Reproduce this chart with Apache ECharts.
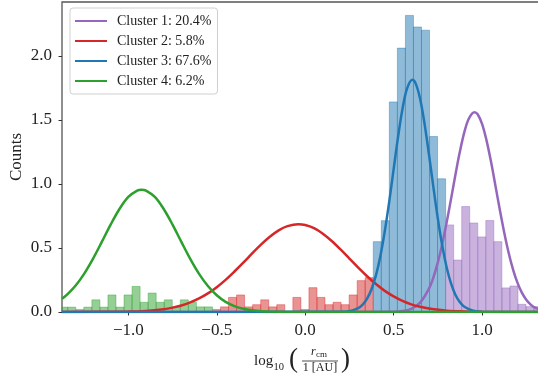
<!DOCTYPE html>
<html>
<head>
<meta charset="utf-8">
<script src="https://cdn.jsdelivr.net/npm/echarts@6/dist/echarts.min.js"></script>
<style>
  html, body { margin: 0; padding: 0; background: #fff; }
  #chart { width: 538px; height: 382px; }
</style>
</head>
<body>
<div id="chart"></div>
<script>
// legend labels, in the order the curves are drawn
const clusterNames = ["Cluster 1: 20.4%", "Cluster 2: 5.8%", "Cluster 3: 67.6%", "Cluster 4: 6.2%"];
const clusterColors = ["#9467bd", "#d62728", "#1f77b4", "#2ca02c"];

// histogram bins (common width), first edge of each cluster's run of bins
const binWidth = 0.04546;
const firstEdges = [0.794, -0.5243, 0.3849, -1.388];

const hist1 = [0.68, 0.406, 0.823, 0.695, 0.586, 0.714, 0.549, 0.188, 0.203, 0.06, 0.042, 0.042];
const hist2 = [0.019, 0.04, 0.114, 0.133, 0.04, 0.057, 0.095, 0.04, 0.057, 0, 0.114, 0.019,
  0.19, 0.114, 0.057, 0.076, 0.057, 0.133, 0.245, 0.268];
const hist3 = [0.549, 0.713, 1.64, 2.06, 2.315, 2.225, 2.2, 1.37, 1.04];
const hist4 = [0.038, 0.038, 0.019, 0.038, 0.095, 0.038, 0.133, 0.038, 0.133, 0.2, 0.076,
  0.148, 0.076, 0.095, 0.038, 0.095, 0.076, 0.04, 0.04];

// fitted curves as [x, y]
const curve1 = [[-1.375, 0], [0.5, 0.002], [0.55, 0.007], [0.6, 0.025], [0.65, 0.073], [0.7, 0.182],
  [0.725, 0.271], [0.75, 0.387], [0.775, 0.531], [0.8, 0.7], [0.825, 0.885], [0.85, 1.075],
  [0.875, 1.254], [0.9, 1.404], [0.925, 1.509], [0.957, 1.56], [0.975, 1.544], [1.0, 1.469],
  [1.025, 1.342], [1.05, 1.178], [1.075, 0.992], [1.1, 0.802], [1.125, 0.623], [1.15, 0.465],
  [1.175, 0.333], [1.2, 0.229], [1.225, 0.151], [1.25, 0.096], [1.275, 0.058], [1.3, 0.034],
  [1.339, 0.017]];
const curve2 = [[-1.375, 0], [-1.0, 0.003], [-0.9, 0.008], [-0.8, 0.022], [-0.75, 0.034],
  [-0.7, 0.051], [-0.65, 0.075], [-0.6, 0.106], [-0.55, 0.145], [-0.5, 0.194], [-0.45, 0.251],
  [-0.4, 0.316], [-0.35, 0.385], [-0.3, 0.457], [-0.25, 0.526], [-0.2, 0.587], [-0.15, 0.637],
  [-0.1, 0.67], [-0.039, 0.685], [0.0, 0.679], [0.05, 0.654], [0.1, 0.611], [0.15, 0.554],
  [0.2, 0.488], [0.25, 0.417], [0.3, 0.346], [0.35, 0.279], [0.4, 0.218], [0.45, 0.165],
  [0.5, 0.122], [0.55, 0.087], [0.6, 0.06], [0.65, 0.041], [0.7, 0.027], [0.8, 0.01],
  [0.9, 0.004], [1.0, 0.001], [1.339, 0]];
const curve3 = [[-1.375, 0], [0.2, 0.001], [0.25, 0.007], [0.3, 0.031], [0.325, 0.058],
  [0.35, 0.105], [0.375, 0.178], [0.4, 0.286], [0.425, 0.436], [0.45, 0.63], [0.475, 0.86],
  [0.5, 1.114], [0.525, 1.365], [0.55, 1.584], [0.575, 1.74], [0.606, 1.8125], [0.625, 1.783],
  [0.65, 1.663], [0.675, 1.469], [0.7, 1.228], [0.725, 0.973], [0.75, 0.729], [0.775, 0.518],
  [0.8, 0.348], [0.825, 0.222], [0.85, 0.133], [0.875, 0.076], [0.9, 0.041], [0.95, 0.01],
  [1.0, 0.002], [1.339, 0]];
const curve4 = [[-1.375, 0.103], [-1.35, 0.131], [-1.3, 0.203], [-1.25, 0.298], [-1.2, 0.415],
  [-1.15, 0.547], [-1.1, 0.682], [-1.05, 0.804], [-1.0, 0.898], [-0.95, 0.948], [-0.925, 0.955],
  [-0.9, 0.948], [-0.85, 0.898], [-0.8, 0.804], [-0.75, 0.682], [-0.7, 0.547], [-0.65, 0.415],
  [-0.6, 0.298], [-0.55, 0.203], [-0.5, 0.131], [-0.45, 0.079], [-0.4, 0.046], [-0.35, 0.025],
  [-0.3, 0.013], [-0.25, 0.006], [-0.2, 0.003], [-0.1, 0.0005], [0.0, 0], [1.339, 0]];

const xTicks = [-1, -0.5, 0, 0.5, 1];
const yTicks = [0, 0.5, 1, 1.5, 2];

const hists = [hist1, hist2, hist3, hist4];
const curves = [curve1, curve2, curve3, curve4];

const SERIF = "'Liberation Serif', 'DejaVu Serif', serif";

function withAlpha(hex, a) {
  const n = parseInt(hex.slice(1), 16);
  return `rgba(${(n >> 16) & 255},${(n >> 8) & 255},${n & 255},${a})`;
}

function histSeries(i) {
  const data = hists[i].map((h, k) => [firstEdges[i] + k * binWidth, firstEdges[i] + (k + 1) * binWidth, h]);
  const c = withAlpha(clusterColors[i], 0.5);
  return {
    type: "custom",
    silent: true,
    data,
    encode: { x: [0, 1], y: 2 },
    renderItem(params, api) {
      const h = api.value(2);
      if (!h) return null;
      const p0 = api.coord([api.value(0), h]);
      const p1 = api.coord([api.value(1), 0]);
      const cs = params.coordSys;
      const shape = echarts.graphic.clipRectByRect(
        { x: p0[0], y: p0[1], width: p1[0] - p0[0], height: p1[1] - p0[1] },
        { x: cs.x, y: cs.y, width: cs.width, height: cs.height }
      );
      return shape && { type: "rect", shape, style: { fill: c, stroke: c, lineWidth: 0.8 } };
    },
    z: 1,
  };
}

const chart = echarts.init(document.getElementById("chart"), null, { renderer: "canvas" });

const tickFmt = (v) => v.toFixed(1).replace("-", "\u2212");

chart.setOption({
  animation: false,
  backgroundColor: "#fff",
  // right edge of the axes box falls just outside the picture, as in the original
  grid: {
    left: 62, right: -4, top: 2, bottom: 70,
    outerBoundsMode: "none",
    containLabel: false,
    show: true, borderColor: "#555", borderWidth: 1.3, backgroundColor: "transparent",
  },
  legend: {
    orient: "vertical",
    left: 70, top: 8,
    padding: [6, 6, 6, 4],
    itemWidth: 32, itemHeight: 14, itemGap: 6,
    itemStyle: { opacity: 0 },
    borderColor: "#d0d0d0", borderWidth: 1, borderRadius: 3,
    backgroundColor: "rgba(255,255,255,0.8)",
    data: clusterNames,
    textStyle: { fontFamily: SERIF, fontSize: 14, color: "#222", padding: [0, 0, 0, 5] },
  },
  xAxis: {
    type: "value",
    min: -1.375, max: 1.339,
    axisLine: { show: false, onZero: false },
    splitLine: { show: false },
    axisTick: { show: true, customValues: xTicks, length: 3.5, lineStyle: { color: "#333", width: 1 } },
    axisLabel: { customValues: xTicks, formatter: tickFmt, margin: 10, fontFamily: SERIF, fontSize: 17, color: "#222" },
  },
  yAxis: {
    type: "value",
    min: 0, max: 2.42,
    axisLine: { show: false, onZero: false },
    splitLine: { show: false },
    axisTick: { show: true, customValues: yTicks, length: 3.5, lineStyle: { color: "#333", width: 1 } },
    axisLabel: { customValues: yTicks, formatter: tickFmt, margin: 10, fontFamily: SERIF, fontSize: 17, color: "#222" },
  },
  graphic: [
    // y axis title
    { type: "text", x: 17, y: 157, rotation: Math.PI / 2,
      style: { text: "Counts", font: "17px " + SERIF, fill: "#222", align: "center", verticalAlign: "middle" } },
    // x axis title: log10( r_cm / 1 [AU] )
    { type: "text", x: 254, y: 361, style: { text: "log", font: "15px " + SERIF, fill: "#222", verticalAlign: "middle" } },
    { type: "text", x: 273.5, y: 367, style: { text: "10", font: "10.5px " + SERIF, fill: "#222", verticalAlign: "middle" } },
    { type: "text", x: 289, y: 360, style: { text: "(", font: "27px " + SERIF, fill: "#222", verticalAlign: "middle" } },
    { type: "text", x: 311, y: 352, style: { text: "r", font: "italic 12px " + SERIF, fill: "#222", verticalAlign: "middle" } },
    { type: "text", x: 316, y: 355, style: { text: "cm", font: "9px " + SERIF, fill: "#222", verticalAlign: "middle" } },
    { type: "line", shape: { x1: 302, y1: 361, x2: 338, y2: 361 }, style: { stroke: "#222", lineWidth: 0.8 } },
    { type: "text", x: 320, y: 368, style: { text: "1 [AU]", font: "12px " + SERIF, fill: "#222", align: "center", verticalAlign: "middle" } },
    { type: "text", x: 341, y: 360, style: { text: ")", font: "27px " + SERIF, fill: "#222", verticalAlign: "middle" } },
  ],
  series: [
    histSeries(0), histSeries(1), histSeries(2), histSeries(3),
    ...curves.map((data, i) => ({
      name: clusterNames[i],
      type: "line",
      data,
      smooth: 0.35,
      symbol: "none",
      showSymbol: false,
      silent: true,
      lineStyle: { width: 2.5, color: clusterColors[i] },
      itemStyle: { color: clusterColors[i] },
      z: 3,
    })),
  ],
});
</script>
</body>
</html>
